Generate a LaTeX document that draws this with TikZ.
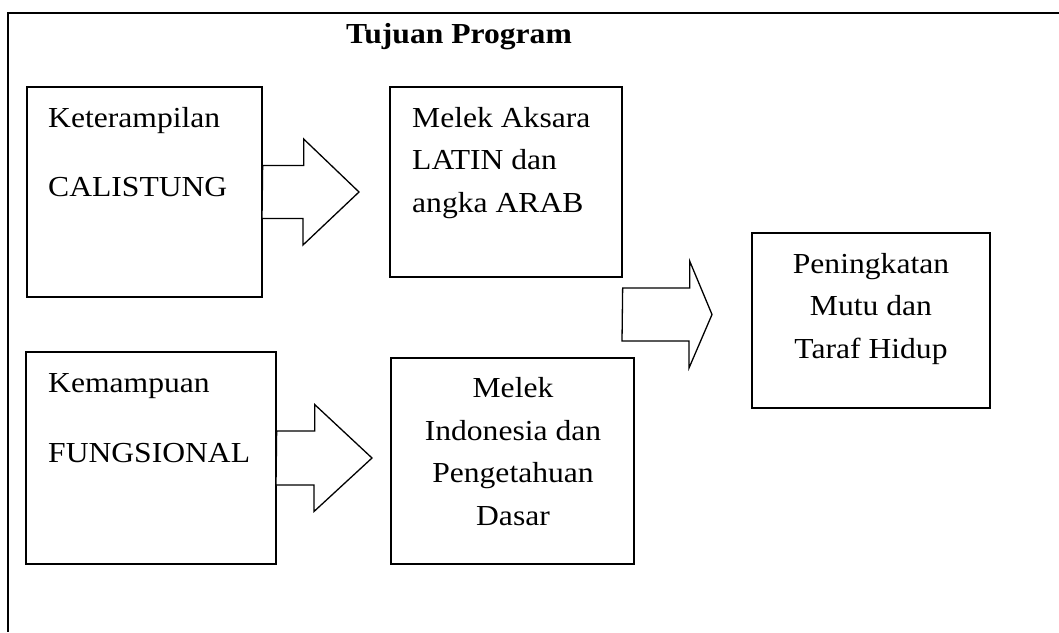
\documentclass[tikz,border=0pt]{standalone}
\usepackage{fontspec}
\setmainfont{Liberation Serif}[FakeStretch=1.09]
\usetikzlibrary{calc}
\begin{document}
\begin{tikzpicture}[x=1pt,y=-1pt,
  box/.style={draw, line width=1.3pt, rectangle, inner sep=0pt},
  blk/.style={draw, line width=1.3pt, line join=miter, fill=white},
  txt/.style={inner sep=0pt, font=\fontsize{29pt}{42.5pt}\selectfont},
  ttl/.style={inner sep=0pt, font=\fontsize{29pt}{35pt}\selectfont\bfseries}]
\useasboundingbox (0,0) rectangle (1059,632);
% frame (top and left edges)
\draw[line width=1.3pt] (1059,13) -- (8,13) -- (8,632);
% title
\node[ttl, anchor=base] (title) at (459,43) {Tujuan Program};
% boxes
\node[box, minimum width=235pt, minimum height=210pt] (b1) at (144.5,192) {};
\node[box, minimum width=232pt, minimum height=190pt] (b2) at (506,182) {};
\node[box, minimum width=238pt, minimum height=175pt] (b3) at (871,320.5) {};
\node[box, minimum width=250pt, minimum height=212pt] (b4) at (151,458) {};
\node[box, minimum width=243pt, minimum height=206pt] (b5) at (512.5,461) {};
% texts (anchored at the baseline of the last line)
\node[txt, anchor=base west, align=left] (t1) at (48,196) {Keterampilan\\[26.5pt]CALISTUNG};
\node[txt, anchor=base west, align=left] (t2) at (412,212) {Melek Aksara\\LATIN dan\\angka ARAB};
\node[txt, anchor=base, align=center] (t3) at (871,358) {Peningkatan\\Mutu dan\\Taraf Hidup};
\node[txt, anchor=base west, align=left] (t4) at (48,462) {Kemampuan\\[27pt]FUNGSIONAL};
\node[txt, anchor=base, align=center] (t5) at (513,525) {Melek\\Indonesia dan\\Pengetahuan\\Dasar};
% arrow tips
\coordinate (p1) at (359,192);
\coordinate (p2) at (372,458);
\coordinate (p3) at (712,314.5);
% block arrows
\draw[blk] ($(b1.east)+(0,-26.5)$) -- ++(41,0) -- ++(0,-26.5) -- (p1)
  -- ++(-56,53) -- ++(0,-26.5) -- ++(-41,0) -- cycle;
\draw[blk] ($(b4.east)+(0,-27)$) -- ++(38,0) -- ++(0,-26.5) -- (p2)
  -- ++(-58,53.5) -- ++(0,-26.5) -- ++(-38,0) -- cycle;
\draw[blk] ($(b2.east |- p3)+(0,-26.5)$) -- ++(67,0) -- ++(0,-27) -- (p3)
  -- ++(-23,53.5) -- ++(0,-27) -- ++(-67,0) -- cycle;
\end{tikzpicture}
\end{document}
